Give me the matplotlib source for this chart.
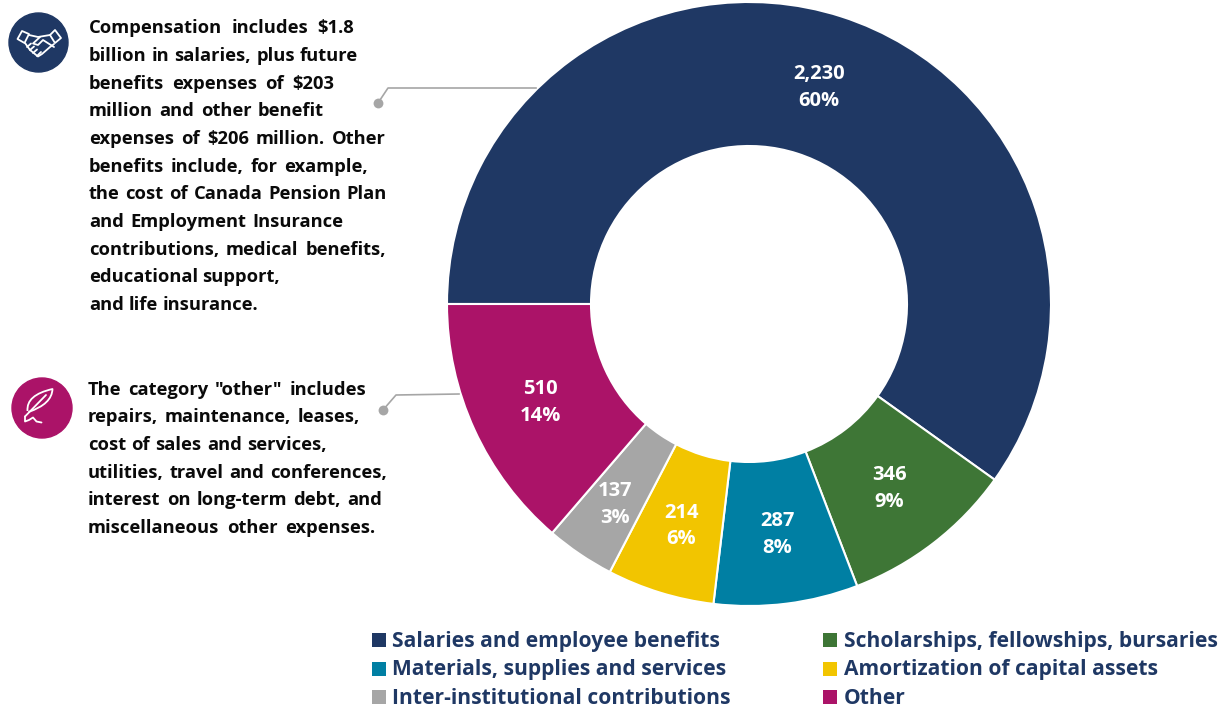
import numpy as np
import matplotlib
matplotlib.use("Agg")
import matplotlib.pyplot as plt
from matplotlib.patches import Circle, Polygon, PathPatch
from matplotlib.path import Path

W, H = 1226, 708

categories = ["Salaries and employee benefits", "Scholarships, fellowships, bursaries",
              "Materials, supplies and services", "Amortization of capital assets",
              "Inter-institutional contributions", "Other"]
values = [2230, 346, 287, 214, 137, 510]
value_labels = ["2,230", "346", "287", "214", "137", "510"]
pct_labels = ["60%", "9%", "8%", "6%", "3%", "14%"]
colors = ["#1F3864", "#3E7636", "#007FA3", "#F2C500", "#A6A6A6", "#AB1368"]

note1 = ["Compensation includes $1.8", "billion in salaries, plus future", "benefits expenses of $203",
         "million and other benefit", "expenses of $206 million. Other", "benefits include, for example,",
         "the cost of Canada Pension Plan", "and Employment Insurance", "contributions, medical benefits,",
         "educational support,", "and life insurance."]
note2 = ["The category \"other\" includes", "repairs, maintenance, leases,", "cost of sales and services,",
         "utilities, travel and conferences,", "interest on long-term debt, and",
         "miscellaneous other expenses."]
# right edge of each line, the original is spaced out to these
note1_ends = [354, 358, 334, 324, 386, 368, 387, 343, 386, 280, 258]
note2_ends = [366, 360, 327, 387, 382, 375]

plt.rcParams["font.family"] = ["Open Sans", "DejaVu Sans"]

fig = plt.figure(figsize=(W / 100, H / 100), dpi=100)

# donut, placed so that it sits where it does in the original
cx, cy, rad = 749, 304, 302
ax = fig.add_axes([(cx - rad) / W, 1 - (cy + rad) / H, 2 * rad / W, 2 * rad / H])
wedges, _ = ax.pie(values, colors=colors, startangle=180, counterclock=False, radius=1.0,
                   wedgeprops=dict(width=144 / 302, edgecolor="white", linewidth=1.5))
ax.set_xlim(-1, 1)
ax.set_ylim(-1, 1)

for w, v, p in zip(wedges, value_labels, pct_labels):
    mid = np.deg2rad((w.theta1 + w.theta2) / 2)
    x, y = 0.761 * np.cos(mid), 0.761 * np.sin(mid) - 0.008
    if v == "137":  # sits off-centre in the original
        x, y = x - 0.017, y - 0.025
    ax.text(x, y, v + "\n" + p, color="white", fontsize=14.5, fontweight="bold",
            ha="center", va="center", linespacing=1.44)

# overlay in pixel coordinates for notes, icons and legend
ov = fig.add_axes([0, 0, 1, 1])
ov.set_xlim(0, W)
ov.set_ylim(H, 0)
ov.axis("off")
ov.patch.set_alpha(0)


def spaced_line(x0, y, line, x1, size=13.25):
    # one line of text with the word gaps stretched to reach x1
    words = line.split(" ")
    items = [ov.text(0, y, w, fontsize=size, fontweight="bold", color="#0a0a0a", va="baseline") for w in words]
    rend = fig.canvas.get_renderer()
    widths = [t.get_window_extent(rend).width for t in items]
    gap = (x1 - x0 - sum(widths)) / max(len(words) - 1, 1)
    x = x0
    for t, wd in zip(items, widths):
        t.set_x(x)
        x += wd + gap


for i, line in enumerate(note1):
    spaced_line(89, 33.2 + i * 27.68, line, note1_ends[i])
for i, line in enumerate(note2):
    spaced_line(88, 394.7 + i * 27.6, line, note2_ends[i])

# leader lines
ov.plot([378, 388, 536], [103, 88, 88], color="#A6A6A6", lw=1.2)
ov.plot([383, 396, 459], [410, 395, 394], color="#A6A6A6", lw=1.2)
ov.scatter([378, 383], [103, 410], s=50, color="#A6A6A6", zorder=3, linewidths=0)

# icons
ov.add_patch(Circle((38.5, 42.5), 29.5, color=colors[0]))
ov.add_patch(Circle((42, 408), 30, color=colors[5]))

ic = dict(fill=False, edgecolor="white", lw=1.3, joinstyle="round")
line_kw = dict(color="white", lw=1.3, solid_capstyle="round")
# handshake
ov.add_patch(Polygon([(17.5, 39), (22, 31), (29, 34), (24.5, 43)], **ic))
ov.add_patch(Polygon([(50, 35), (55, 30), (61, 38), (55, 43)], **ic))
ov.plot([29, 38, 50], [35, 37, 35], **line_kw)
ov.plot([40, 33, 38, 43, 54], [37, 43.5, 45, 40, 47], **line_kw)
ov.plot([25, 30, 38, 42, 50, 54], [43, 50, 56.5, 54, 47, 44], **line_kw)
ov.plot([27, 31], [47, 43.5], **line_kw)
ov.plot([30, 34], [50, 46.5], **line_kw)
ov.plot([33, 37], [53, 49.5], **line_kw)
ov.plot([37, 41], [56, 52], **line_kw)

# feather
feather = Path([(27.5, 411), (26, 395), (52.5, 389), (52, 404), (28.5, 412)],
               [Path.MOVETO, Path.CURVE3, Path.LINETO, Path.CURVE3, Path.LINETO])
ov.add_patch(PathPatch(feather, **ic))
ov.plot([46, 25], [395, 416.5], **line_kw)
ov.plot([25, 25, 29, 33, 36.5, 41.5], [416.5, 421.5, 420, 417.5, 421.5, 422.5], **line_kw)

# legend
col_x = [372, 823.5]
row_y = [640, 668.5, 697]
for i, (name, c) in enumerate(zip(categories, colors)):
    x, y = col_x[i % 2], row_y[i // 2]
    ov.scatter([x + 6.5], [y], marker="s", s=105, color=c, linewidths=0)
    ov.text(x + 20.5, y + 1, name, fontsize=15.1, fontweight="bold", color="#1F3864", va="center")

fig.savefig("out.png", dpi=100)
